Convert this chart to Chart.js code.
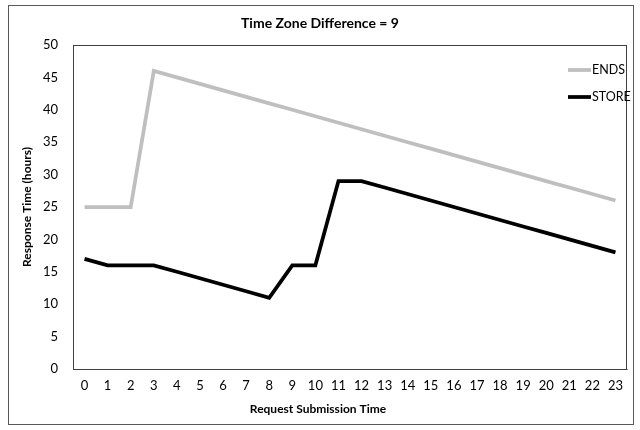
<!DOCTYPE html>
<html>
<head>
<meta charset="utf-8">
<script src="https://cdn.jsdelivr.net/npm/chart.js@4/dist/chart.umd.min.js"></script>
<style>
  html, body { margin: 0; padding: 0; background: #fff; }
  #wrap { position: relative; width: 640px; height: 430px; }
  #frame { position: absolute; left: 8px; top: 5px; width: 626px; height: 420px; border: 1px solid #595959; box-sizing: border-box; pointer-events: none; }
  canvas { position: absolute; left: 0; top: 0; }
</style>
</head>
<body>
<div id="wrap">
  <canvas id="c" width="640" height="430"></canvas>
  <div id="frame"></div>
</div>
<script>
// Hour of request submission
const hours = ['0','1','2','3','4','5','6','7','8','9','10','11','12','13','14','15','16','17','18','19','20','21','22','23'];
// Response time in hours per system
const endsValues  = [25, 25, 25, 46, 45, 44, 43, 42, 41, 40, 39, 38, 37, 36, 35, 34, 33, 32, 31, 30, 29, 28, 27, 26];
const storeValues = [17, 16, 16, 16, 15, 14, 13, 12, 11, 16, 16, 29, 29, 28, 27, 26, 25, 24, 23, 22, 21, 20, 19, 18];
const yTicks = [0, 5, 10, 15, 20, 25, 30, 35, 40, 45, 50];

const titleText = 'Time Zone Difference = 9';
const xTitleText = 'Request Submission Time';
const FONT = 'Lato, "Open Sans", sans-serif';

// Plot frame, chart title, x-axis title and in-plot legend
const decorations = {
  id: 'decorations',
  beforeDatasetsDraw(chart) {
    const { ctx, chartArea: a } = chart;
    ctx.save();
    ctx.strokeStyle = '#404040';
    ctx.lineWidth = 1;
    ctx.strokeRect(a.left + 0.5, a.top + 0.5, a.right - a.left - 1, a.bottom - a.top);
    ctx.restore();
  },
  afterDraw(chart) {
    const { ctx } = chart;
    ctx.save();
    ctx.fillStyle = '#000';
    ctx.textAlign = 'center';
    ctx.textBaseline = 'middle';
    ctx.font = 'bold 14px ' + FONT;
    ctx.fillText(titleText, 320, 23);
    ctx.font = 'bold 12px ' + FONT;
    ctx.fillText(xTitleText, 318, 409);

    ctx.font = '12.5px ' + FONT;
    ctx.textAlign = 'left';
    chart.data.datasets.forEach((ds, i) => {
      const y = 70 + i * 27;
      ctx.strokeStyle = ds.borderColor;
      ctx.lineWidth = 3.75;
      ctx.beginPath();
      ctx.moveTo(568, y);
      ctx.lineTo(591, y);
      ctx.stroke();
      ctx.fillStyle = '#000';
      ctx.fillText(ds.label, 592, y);
    });
    ctx.restore();
  }
};

new Chart(document.getElementById('c'), {
  type: 'line',
  data: {
    labels: hours,
    datasets: [
      { label: 'ENDS', data: endsValues, borderColor: '#BFBFBF', borderWidth: 3.75, pointRadius: 0, tension: 0, borderJoinStyle: 'miter' },
      { label: 'STORE', data: storeValues, borderColor: '#000000', borderWidth: 3.75, pointRadius: 0, tension: 0, borderJoinStyle: 'miter' }
    ]
  },
  options: {
    responsive: false,
    animation: false,
    layout: { padding: { top: 45, right: 13, bottom: 0, left: 16 } },
    plugins: {
      legend: { display: false },
      title: { display: false },
      tooltip: { enabled: false }
    },
    scales: {
      x: {
        offset: true,
        grid: { display: false, drawTicks: false },
        border: { display: true, color: '#868686', width: 1 },
        ticks: { color: '#000', font: { family: FONT, size: 13 }, padding: 9, maxRotation: 0, autoSkip: false },
        afterFit(s) { s.height = 61; }
      },
      y: {
        min: 0,
        max: 50,
        afterBuildTicks(s) { s.ticks = yTicks.map(v => ({ value: v })); },
        grid: { display: false, drawTicks: false },
        border: { display: true, color: '#868686', width: 1 },
        ticks: { color: '#000', font: { family: FONT, size: 13 }, padding: 15 },
        title: { display: true, text: 'Response Time (hours)', color: '#000', font: { family: FONT, size: 12, weight: 'bold' }, padding: { top: 4, bottom: 0 } },
        afterFit(s) { s.width = 57; }
      }
    }
  },
  plugins: [decorations]
});
</script>
</body>
</html>
